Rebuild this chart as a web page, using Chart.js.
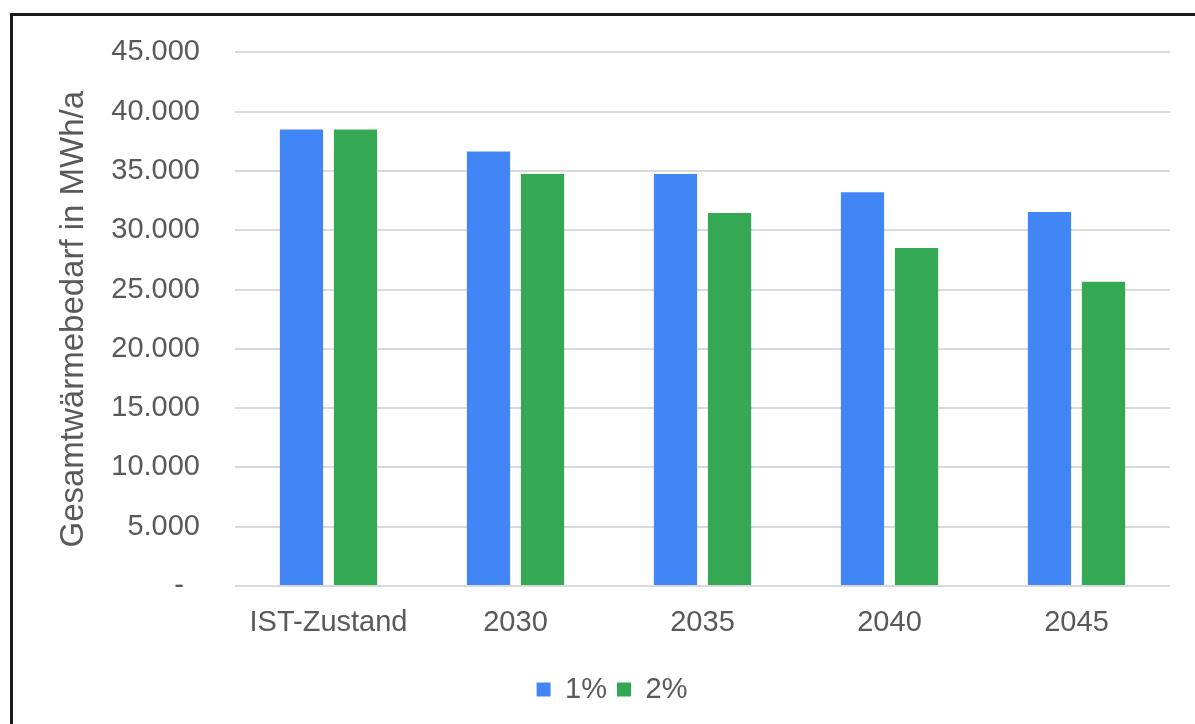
<!DOCTYPE html>
<html>
<head>
<meta charset="utf-8">
<script src="https://cdn.jsdelivr.net/npm/chart.js@4"></script>
<style>
  html, body { margin: 0; padding: 0; background: #fff; overflow: hidden; }
  #wrap { position: relative; width: 1195px; height: 724px; }
  #frame {
    position: absolute; left: 10px; top: 13px; width: 1300px; height: 800px;
    border-left: 3px solid #1a1a1a; border-top: 3px solid #1a1a1a;
    pointer-events: none;
  }
  canvas { position: absolute; left: 0; top: 0; }
</style>
</head>
<body>
<div id="wrap">
  <canvas id="chart" width="1195" height="724"></canvas>
  <div id="frame"></div>
</div>
<script>
// Werte (MWh/a)
const categories = ["IST-Zustand", "2030", "2035", "2040", "2045"];
const seriesNames = ["1%", "2%"];
const values1 = [38500, 36650, 34750, 33200, 31550];
const values2 = [38500, 34750, 31450, 28500, 25650];
const yMax = 45000;
const yStep = 5000;

const textColor = "#595959";
const fontFamily = "'Liberation Sans', Arial, sans-serif";
const fontSize = 29;

function formatTick(value) {
    if (value === 0) return "-  ";
    return String(value).replace(/\B(?=(\d{3})+(?!\d))/g, ".");
}

const ctx = document.getElementById("chart").getContext("2d");
new Chart(ctx, {
    type: "bar",
    data: {
        labels: categories,
        datasets: [{
            label: seriesNames[0],
            data: values1,
            backgroundColor: "#4285F4",
            categoryPercentage: 0.578,
            barPercentage: 0.8
        }, {
            label: seriesNames[1],
            data: values2,
            backgroundColor: "#34A853",
            categoryPercentage: 0.578,
            barPercentage: 0.8
        }]
    },
    options: {
        responsive: false,
        animation: false,
        layout: {
            padding: { top: 42, right: 25, bottom: 10, left: 54 }
        },
        plugins: {
            legend: {
                position: "bottom",
                labels: {
                    color: textColor,
                    font: { family: fontFamily, size: fontSize },
                    boxWidth: 14,
                    boxHeight: 14,
                    padding: 10
                }
            },
            tooltip: { enabled: false }
        },
        scales: {
            x: {
                afterFit: scale => { scale.height = 79; },
                grid: { display: false, drawTicks: false },
                border: { display: false },
                ticks: {
                    color: textColor,
                    font: { family: fontFamily, size: fontSize },
                    padding: 20
                }
            },
            y: {
                min: 0,
                max: yMax,
                afterFit: scale => { scale.width = 181; },
                grid: { color: "#d9d9d9", lineWidth: 2, drawTicks: false },
                border: { display: false },
                ticks: {
                    stepSize: yStep,
                    color: textColor,
                    font: { family: fontFamily, size: fontSize },
                    padding: 35,
                    callback: v => formatTick(v)
                },
                title: {
                    display: true,
                    text: "Gesamtwärmebedarf in MWh/a",
                    color: textColor,
                    font: { family: fontFamily, size: 33 },
                    padding: 0
                }
            }
        }
    }
});
</script>
</body>
</html>
